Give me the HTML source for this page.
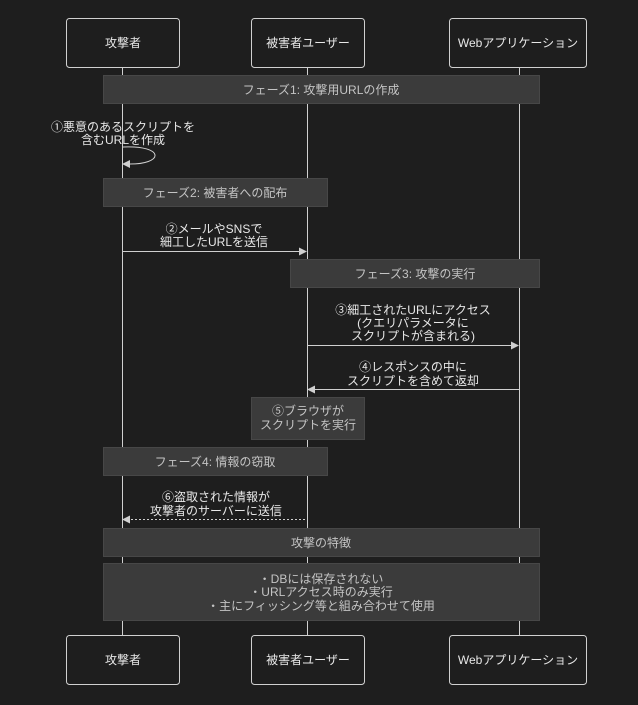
<!DOCTYPE html>
<html><head><meta charset="utf-8"><style>
html,body{margin:0;padding:0;background:#1e1e1e;}
svg{display:block;font-family:"Liberation Sans","Noto Sans CJK JP",sans-serif;}
.a{fill:none;stroke:#d0d0d0;stroke-width:1;}
.t{fill:#e8e8e8;font-size:12px;text-anchor:middle;}
.n{fill:#c4c4c4;font-size:12px;text-anchor:middle;}
.nb{fill:#3b3b3b;stroke:#474747;stroke-width:1;}
</style></head><body>
<svg width="638" height="705" viewBox="0 0 638 705">
<rect width="638" height="705" fill="#1e1e1e"/>
<g stroke="#d0d0d0" stroke-width="1">
<line x1="122.5" y1="67" x2="122.5" y2="635"/>
<line x1="307.5" y1="67" x2="307.5" y2="635"/>
<line x1="519.5" y1="67" x2="519.5" y2="635"/>
</g>
<g class="a" stroke="#bbb">
<rect x="66.5" y="18.5" width="113" height="49" rx="3"/>
<rect x="251.5" y="18.5" width="113" height="49" rx="3"/>
<rect x="449.5" y="18.5" width="137" height="49" rx="3"/>
<rect x="66.5" y="635.5" width="113" height="49" rx="3"/>
<rect x="251.5" y="635.5" width="113" height="49" rx="3"/>
<rect x="449.5" y="635.5" width="137" height="49" rx="3"/>
</g>
<g class="t">
<text x="123" y="47">攻撃者</text><text x="308" y="47">被害者ユーザー</text><text x="518" y="47">Webアプリケーション</text>
<text x="123" y="664">攻撃者</text><text x="308" y="664">被害者ユーザー</text><text x="518" y="664">Webアプリケーション</text>
</g>
<rect class="nb" x="103.5" y="75.5" width="436" height="28"/>
<text class="n" x="321" y="94">フェーズ1: 攻撃用URLの作成</text>
<text class="t" x="123" y="131">①悪意のあるスクリプトを</text>
<text class="t" x="123" y="144">含むURLを作成</text>
<path class="a" d="M123,147 C165,145 165,165 127,164"/>
<polygon points="122,164 130,160 130,168" fill="#d0d0d0"/>
<rect class="nb" x="103.5" y="178.5" width="224" height="28"/>
<text class="n" x="215" y="197">フェーズ2: 被害者への配布</text>
<text class="t" x="214" y="233">②メールやSNSで</text>
<text class="t" x="214" y="246">細工したURLを送信</text>
<line class="a" x1="122" y1="251.5" x2="302" y2="251.5"/>
<polygon points="307,251.5 299,247.5 299,255.5" fill="#d0d0d0"/>
<rect class="nb" x="290.5" y="259.5" width="249" height="28"/>
<text class="n" x="415" y="278">フェーズ3: 攻撃の実行</text>
<text class="t" x="413" y="314">③細工されたURLにアクセス</text>
<text class="t" x="413" y="327">(クエリパラメータに</text>
<text class="t" x="413" y="340">スクリプトが含まれる)</text>
<line class="a" x1="307" y1="345.5" x2="514" y2="345.5"/>
<polygon points="519,345.5 511,341.5 511,349.5" fill="#d0d0d0"/>
<text class="t" x="413" y="371">④レスポンスの中に</text>
<text class="t" x="413" y="385">スクリプトを含めて返却</text>
<line class="a" x1="312" y1="389.5" x2="519" y2="389.5"/>
<polygon points="307,389.5 315,385.5 315,393.5" fill="#d0d0d0"/>
<rect class="nb" x="251.5" y="397.5" width="113" height="42"/>
<text class="n" x="308" y="415">⑤ブラウザが</text>
<text class="n" x="308" y="429">スクリプトを実行</text>
<rect class="nb" x="103.5" y="447.5" width="224" height="28"/>
<text class="n" x="215" y="466">フェーズ4: 情報の窃取</text>
<text class="t" x="216" y="501">⑥盗取された情報が</text>
<text class="t" x="216" y="515">攻撃者のサーバーに送信</text>
<line class="a" x1="127" y1="519.5" x2="307" y2="519.5" stroke-dasharray="2,2"/>
<polygon points="122,519.5 130,515.5 130,523.5" fill="#d0d0d0"/>
<rect class="nb" x="103.5" y="528.5" width="436" height="28"/>
<text class="n" x="321" y="547">攻撃の特徴</text>
<rect class="nb" x="103.5" y="563.5" width="436" height="57"/>
<text class="n" x="321" y="583">・DBには保存されない</text>
<text class="n" x="321" y="596">・URLアクセス時のみ実行</text>
<text class="n" x="321" y="610">・主にフィッシング等と組み合わせて使用</text>
</svg>
</body></html>
